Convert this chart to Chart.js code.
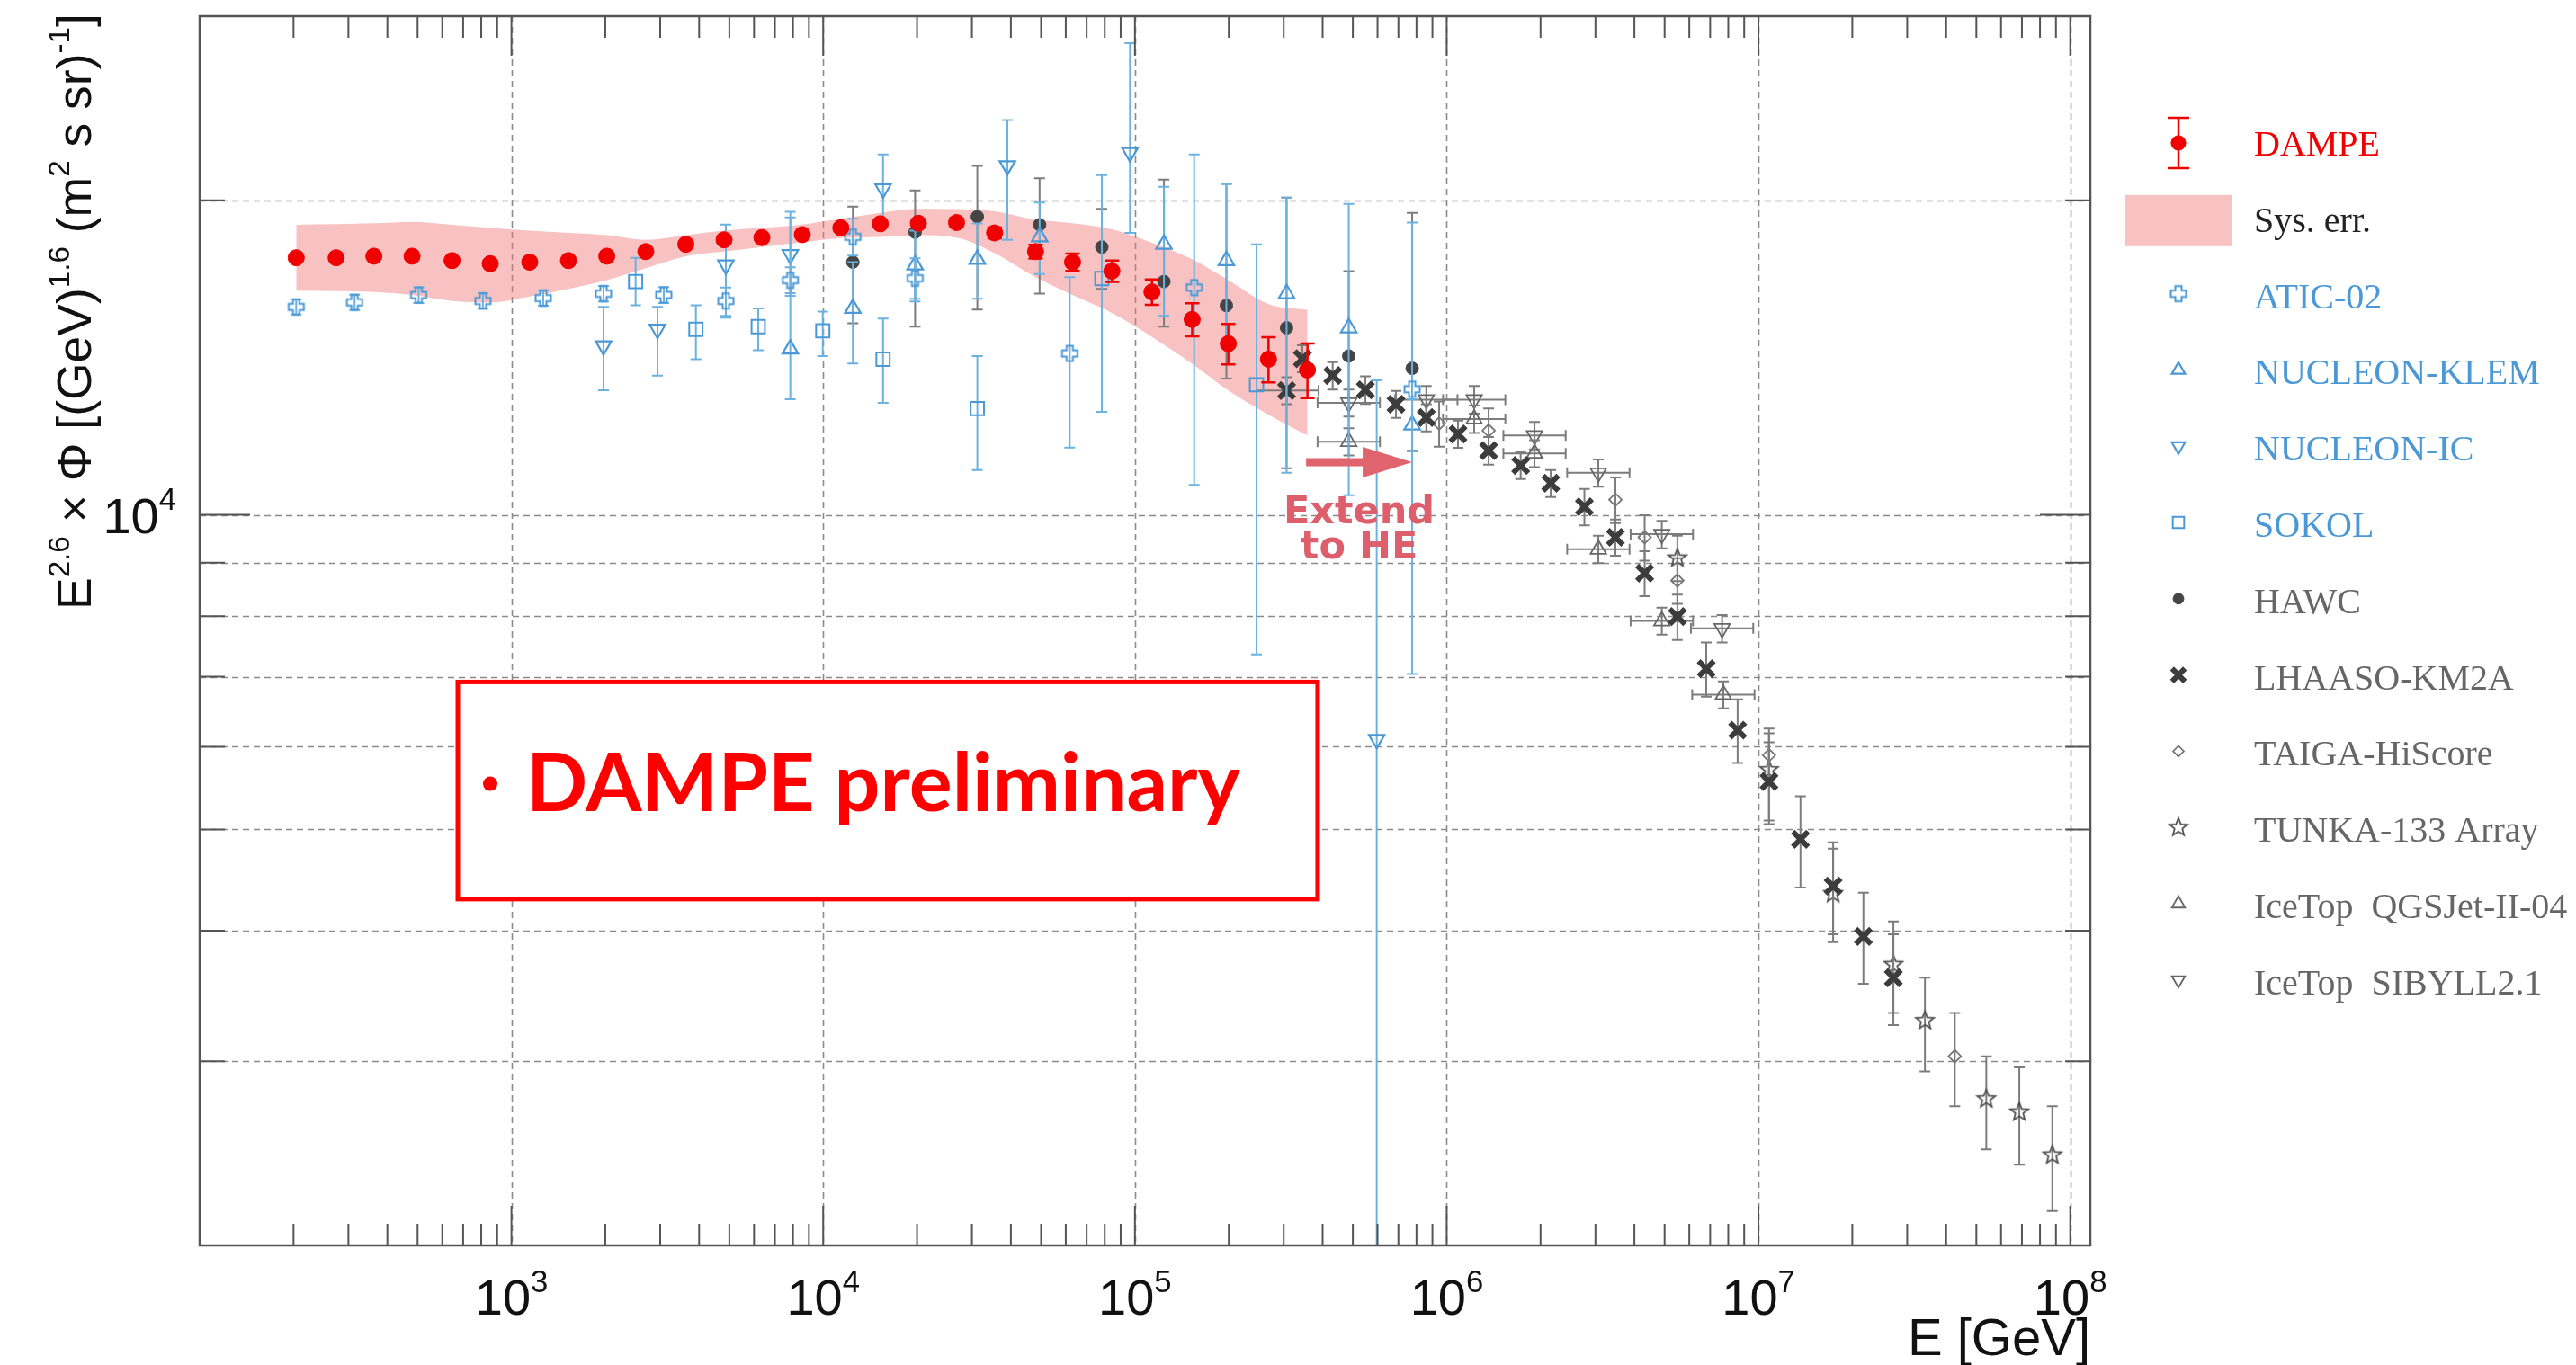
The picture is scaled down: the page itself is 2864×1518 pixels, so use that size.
<!DOCTYPE html>
<html><head><meta charset="utf-8">
<style>html,body{margin:0;padding:0;background:#fff;}canvas{display:block;}</style>
<script src="https://cdn.jsdelivr.net/npm/chart.js@4.4.1/dist/chart.umd.min.js"></script>
</head><body>
<canvas id="c" width="2864" height="1518" style="width:2864px;height:1518px"></canvas>
<script>
// ---------------- DATA (E in GeV, F = E^2.6 x Flux) ----------------
const dampeE = [204,274,362,480,645,855,1145,1524,2022,2698,3626,4809,6358,8572,11390,15240,20200,26770,35470,48000,63070,84370,113400,152600,199300,268200,357600];
const dampeF = [17620,17620,17680,17680,17510,17390,17450,17510,17680,17860,18150,18330,18420,18540,18820,18990,19010,19040,18610,17860,17450,17110,16340,15380,14580,14090,13760];
const dampeErr = [90,90,90,90,90,90,90,90,90,100,100,110,110,120,130,140,160,190,220,270,330,400,460,560,650,700,830];
const sysHigh = [18950,18970,19010,19070,18950,18820,18700,18610,18520,18330,18520,18700,18820,18960,19200,19450,19620,19610,19520,19160,19010,18760,18210,17560,16770,15910,15710];
const sysLow  = [16390,16370,16340,16230,16020,15970,16180,16450,16770,17220,17680,17860,18040,18230,18400,18450,18520,18420,17800,16880,16230,15600,14800,13950,13150,12470,11910];

const aticE  = [204,314,504,810,1265,1974,3081,4873,7843,12450,19720,61780,154900,774900];
const aticF  = [15810,15970,16230,16020,16120,16280,16230,16020,16770,18450,16840,14270,16500,13190];
const aticLo = [15550,15700,15950,15750,15850,16000,15950,15440,16300,17700,16100,11600,10680,7045];
const aticHi = [16070,16240,16510,16300,16400,16560,16520,16500,17250,19200,17600,16880,22120,19040];

const klemE  = [7843,12450,19720,31220,49450,123900,196500,306500,485100,774900];
const klemF  = [14410,15760,17340,17560,18450,18150,17510,16280,15100,12190];
const klemLo = [12900,13960,16000,16100,17000,15500,14500,10970,10440,11500];
const klemHi = [19260,17450,18700,19000,19900,20600,20730,20120,19840,12900];

const icE  = [1974,2941,4873,7843,15560,38980,96400,596400];
const icF  = [14510,15050,17340,17740,20510,21580,22210,6098];
const icLo = [13160,13590,15500,16200,19040,18330,18610,1900];
const icHi = [15810,15810,18960,19500,22120,23870,28270,13450];

const sokolE  = [2502,3906,6190,9968,15560,31220,78310,245500];
const sokolF  = [16720,15050,15140,15000,14090,12640,16830,13320];
const sokolLo = [15870,14090,14370,14190,12800,11040,12550,7355];
const sokolHi = [17620,15870,15760,15650,15410,14190,21140,18150];

const hawcE  = [12450,19720,31220,49450,78310,123900,196500,306500,485100,774900];
const hawcF  = [17450,18640,19290,18950,18040,16720,15860,15100,14190,13810];
const hawcLo = [15250,15140,15720,16280,16450,15140,13500,11080,11750,11520];
const hawcHi = [19720,20440,21570,20990,19620,20930,20730,20120,17110,19450];

const lhaasoE  = [306500,344500,430900,548600,687600,860000,1087000,1363000,1727000,2156000,2765000,3477000,4315000,5493000,6800000,8574000,10810000,13640000,17360000,21710000,27090000];
const lhaasoF  = [13150,14110,13590,13170,12760,12390,11950,11520,11150,10720,10180,9518,8795,7994,7125,6223,5558,4893,4414,3950,3607];
const lhaasoLo = [12760,13690,13180,12770,12380,12020,11590,11170,10820,10400,9770,9140,8360,7590,6700,5790,5060,4400,3970,3560,3250];
const lhaasoHi = [13540,14530,14000,13570,13140,12760,12310,11870,11480,11040,10590,9900,9230,8390,7550,6660,6060,5380,4860,4350,3970];
const lhaasoXLo = [245500,null,null,null,null,null,null,null,null,null,null,null,null,null,null,null,null,null,null,null,null];
const lhaasoXHi = [388400,null,null,null,null,null,null,null,null,null,null,null,null,null,null,null,null,null,null,null,null];

const taigaE  = [945800,1363000,3477000,4315000,5493000,10810000,42640000];
const taigaF  = [12230,12040,10340,9518,8653,5889,3034];
const taigaLo = [11620,11440,9820,9040,8220,5590,2717];
const taigaHi = [12840,12640,10860,9990,9090,6180,3337];

const tunkaE  = [5493000,10810000,17360000,27090000,34200000,53800000,68670000,87600000];
const tunkaF  = [9091,5702,4342,3713,3281,2761,2683,2440];
const tunkaLo = [8640,5099,3902,3337,2935,2471,2389,2157];
const tunkaHi = [9550,6244,4794,4083,3607,3034,2960,2717];

const itqE   = [485100,1225000,1913000,3065000,4898000,7717000];
const itqF   = [11750,12350,11450,9271,7916,6731];
const itqLo  = [11400,11980,11110,8990,7680,6530];
const itqHi  = [12100,12720,11790,9550,8150,6930];
const itqXLo = [385300,973000,1520000,2434000,3890000,6130000];
const itqXHi = [610700,1542000,2408000,3859000,6166000,9715000];

const itsE   = [485100,860000,1225000,1913000,3065000,4898000,7644000];
const itsF   = [12800,12890,12890,11910,10970,9582,7787];
const itsLo  = [12420,12500,12500,11550,10640,9290,7550];
const itsHi  = [13180,13280,13280,12270,11300,9870,8020];
const itsXLo = [385300,683100,973000,1520000,2434000,3890000,6072000];
const itsXHi = [610700,1083000,1542000,2408000,3859000,6166000,9623000];

// axis ticks / grid
const xDecades = [1e3,1e4,1e5,1e6,1e7,1e8];
const xDecadeExp = ['3','4','5','6','7','8'];
const yGrid = [3000,4000,5000,6000,7000,8000,9000,10000,20000];
const yLabelValue = 10000, yLabelExp = '4';

// ---------------- STYLE ----------------
const RED='#f00000', BLUE='#4a98d6', BLUE_BAR='#6cb2e0', GREY='#505050', GREY_BAR='#7c7c7c';
const BAND='rgba(240,120,120,0.45)';
const SANS='"Liberation Sans", Arial, sans-serif', SERIF='"Liberation Serif", "Times New Roman", serif';

function mk(w,h,fn){const c=document.createElement('canvas');c.width=w;c.height=h;fn(c.getContext('2d'),w/2,h/2);return c;}
const aticImg = mk(24,24,(g,cx,cy)=>{g.strokeStyle=BLUE;g.lineWidth=2;const a=3.5,b=8.5;g.beginPath();
  g.moveTo(cx-a,cy-b);g.lineTo(cx+a,cy-b);g.lineTo(cx+a,cy-a);g.lineTo(cx+b,cy-a);g.lineTo(cx+b,cy+a);g.lineTo(cx+a,cy+a);
  g.lineTo(cx+a,cy+b);g.lineTo(cx-a,cy+b);g.lineTo(cx-a,cy+a);g.lineTo(cx-b,cy+a);g.lineTo(cx-b,cy-a);g.lineTo(cx-a,cy-a);g.closePath();g.stroke();});
const starImg = mk(26,26,(g,cx,cy)=>{g.strokeStyle=GREY;g.lineWidth=1.8;g.beginPath();
  for(let k=0;k<10;k++){const r=k%2?4.5:10.5,a=-Math.PI/2+k*Math.PI/5;const px=cx+r*Math.cos(a),py=cy+r*Math.sin(a);k?g.lineTo(px,py):g.moveTo(px,py);}
  g.closePath();g.stroke();});

function pts(E,F){return E.map((e,i)=>({x:e,y:F[i]}));}

const series = [
 {label:'DAMPE', E:dampeE, F:dampeF, lo:dampeF.map((f,i)=>f-dampeErr[i]), hi:dampeF.map((f,i)=>f+dampeErr[i]), ps:'circle', r:9, rot:0, fill:RED, stroke:RED, bw:1, bar:RED, barW:2.5, cap:8, txt:RED},
 {label:'ATIC-02', E:aticE, F:aticF, lo:aticLo, hi:aticHi, ps:aticImg, r:9, rot:0, fill:'rgba(0,0,0,0)', stroke:BLUE, bw:2, bar:BLUE_BAR, barW:2, cap:6, txt:BLUE},
 {label:'NUCLEON-KLEM', E:klemE, F:klemF, lo:klemLo, hi:klemHi, ps:'triangle', r:10, rot:0, fill:'rgba(0,0,0,0)', stroke:BLUE, bw:2.2, bar:BLUE_BAR, barW:2, cap:6, txt:BLUE},
 {label:'NUCLEON-IC', E:icE, F:icF, lo:icLo, hi:icHi, ps:'triangle', r:10, rot:180, fill:'rgba(0,0,0,0)', stroke:BLUE, bw:2.2, bar:BLUE_BAR, barW:2, cap:6, txt:BLUE},
 {label:'SOKOL', E:sokolE, F:sokolF, lo:sokolLo, hi:sokolHi, ps:'rect', r:10.5, rot:0, fill:'rgba(0,0,0,0)', stroke:BLUE, bw:2, bar:BLUE_BAR, barW:2, cap:6, txt:BLUE},
 {label:'HAWC', E:hawcE, F:hawcF, lo:hawcLo, hi:hawcHi, ps:'circle', r:7, rot:0, fill:'#454545', stroke:'#454545', bw:1, bar:GREY_BAR, barW:2, cap:6, txt:'#666'},
 {label:'LHAASO-KM2A', E:lhaasoE, F:lhaasoF, lo:lhaasoLo, hi:lhaasoHi, xlo:lhaasoXLo, xhi:lhaasoXHi, ps:'crossRot', r:12, rot:0, fill:'#3c3c3c', stroke:'#3c3c3c', bw:6, bar:GREY_BAR, barW:2, cap:6, txt:'#666'},
 {label:'TAIGA-HiScore', E:taigaE, F:taigaF, lo:taigaLo, hi:taigaHi, ps:'rectRot', r:7, rot:0, fill:'rgba(0,0,0,0)', stroke:'#777', bw:1.8, bar:GREY_BAR, barW:2, cap:6, txt:'#666'},
 {label:'TUNKA-133 Array', E:tunkaE, F:tunkaF, lo:tunkaLo, hi:tunkaHi, ps:starImg, r:10, rot:0, fill:'rgba(0,0,0,0)', stroke:GREY, bw:1.8, bar:GREY_BAR, barW:2, cap:6, txt:'#666'},
 {label:'IceTop  QGSJet-II-04', E:itqE, F:itqF, lo:itqLo, hi:itqHi, xlo:itqXLo, xhi:itqXHi, ps:'triangle', r:10, rot:0, fill:'rgba(0,0,0,0)', stroke:'#666', bw:1.8, bar:GREY_BAR, barW:2, cap:6, txt:'#666'},
 {label:'IceTop  SIBYLL2.1', E:itsE, F:itsF, lo:itsLo, hi:itsHi, xlo:itsXLo, xhi:itsXHi, ps:'triangle', r:10, rot:180, fill:'rgba(0,0,0,0)', stroke:'#666', bw:1.8, bar:GREY_BAR, barW:2, cap:6, txt:'#666'}
];

const datasets = series.map(s=>({
  label:s.label, data:pts(s.E,s.F), showLine:false,
  pointStyle:s.ps, pointRadius:s.r, pointRotation:s.rot,
  pointBackgroundColor:s.fill, pointBorderColor:s.stroke, pointBorderWidth:s.bw,
  borderColor:s.stroke, backgroundColor:s.fill,
  errSpec:{lo:s.lo, hi:s.hi, xlo:s.xlo, xhi:s.xhi, color:s.bar, width:s.barW, cap:s.cap}
}));
datasets.push({label:'Sys. err.', data:pts(dampeE,sysHigh), showLine:true, borderWidth:0, borderColor:'rgba(0,0,0,0)', pointRadius:0, fill:'+1', backgroundColor:BAND, tension:0.4, cubicInterpolationMode:'monotone'});
datasets.push({label:'sys-low', data:pts(dampeE,sysLow), showLine:true, borderWidth:0, borderColor:'rgba(0,0,0,0)', pointRadius:0, fill:false, tension:0.4, cubicInterpolationMode:'monotone'});

// annotations in data coordinates
const notes = {
  box:{eMin:673, eMax:385500, fTop:6920, fBottom:4289},
  boxText:{bulletE:855, textE:1115, textEndE:217800, baselineF:5206, text:'DAMPE preliminary'},
  arrow:{e0:354000, e1:775000, f:11230},
  extend:{e:523600, f1:9818, f2:9091}
};

// ---------------- PLUGINS ----------------
const errorBars = {
  id:'errorBars',
  beforeDatasetDraw(chart,args){
    const ds=chart.data.datasets[args.index]; const e=ds.errSpec; if(!e) return;
    const xs=chart.scales.x, ys=chart.scales.y, ctx=chart.ctx, ca=chart.chartArea;
    ctx.save(); ctx.beginPath(); ctx.rect(ca.left,ca.top,ca.right-ca.left,ca.bottom-ca.top); ctx.clip();
    ctx.strokeStyle=e.color; ctx.lineWidth=e.width;
    ds.data.forEach((p,i)=>{
      const px=xs.getPixelForValue(p.x), py=ys.getPixelForValue(p.y);
      ctx.beginPath();
      if(e.lo && e.lo[i]!=null){
        const y1=ys.getPixelForValue(e.lo[i]), y2=ys.getPixelForValue(e.hi[i]);
        ctx.moveTo(px,y1);ctx.lineTo(px,y2);
        ctx.moveTo(px-e.cap,y1);ctx.lineTo(px+e.cap,y1);ctx.moveTo(px-e.cap,y2);ctx.lineTo(px+e.cap,y2);
      }
      if(e.xlo && e.xlo[i]!=null){
        const x1=xs.getPixelForValue(e.xlo[i]), x2=xs.getPixelForValue(e.xhi[i]);
        ctx.moveTo(x1,py);ctx.lineTo(x2,py);
        ctx.moveTo(x1,py-e.cap);ctx.lineTo(x1,py+e.cap);ctx.moveTo(x2,py-e.cap);ctx.lineTo(x2,py+e.cap);
      }
      ctx.stroke();
    });
    ctx.restore();
  }
};

function drawRich(ctx,parts,x,y,size,family){
  let cx=x;
  for(const p of parts){
    const fs=p.sup?size*0.62:size;
    ctx.font=`${fs}px ${family}`;
    ctx.fillText(p.t,cx,p.sup?y-size*0.45:y);
    cx+=ctx.measureText(p.t).width;
  }
  return cx-x;
}
function richWidth(ctx,parts,size,family){
  let w=0; for(const p of parts){ctx.font=`${p.sup?size*0.62:size}px ${family}`; w+=ctx.measureText(p.t).width;} return w;
}
function marker(ctx,s,x,y,scale){
  ctx.save();
  if(s.ps instanceof HTMLCanvasElement){ctx.drawImage(s.ps,x-s.ps.width/2,y-s.ps.height/2);ctx.restore();return;}
  const r=s.r*(scale||1);
  ctx.fillStyle=s.fill; ctx.strokeStyle=s.stroke; ctx.lineWidth=s.bw;
  ctx.beginPath();
  if(s.ps==='circle'){ctx.arc(x,y,r,0,Math.PI*2);}
  else if(s.ps==='triangle'){const d=s.rot===180?-1:1;
    ctx.moveTo(x,y-d*r);ctx.lineTo(x+r*0.866,y+d*r*0.5);ctx.lineTo(x-r*0.866,y+d*r*0.5);ctx.closePath();}
  else if(s.ps==='rect'){const h=r*0.7071;ctx.rect(x-h,y-h,2*h,2*h);}
  else if(s.ps==='rectRot'){ctx.moveTo(x,y-r);ctx.lineTo(x+r,y);ctx.lineTo(x,y+r);ctx.lineTo(x-r,y);ctx.closePath();}
  else if(s.ps==='crossRot'){const h=r*0.7071;ctx.moveTo(x-h,y-h);ctx.lineTo(x+h,y+h);ctx.moveTo(x+h,y-h);ctx.lineTo(x-h,y+h);}
  if(s.ps!=='crossRot') ctx.fill();
  ctx.stroke(); ctx.restore();
}

const decor = {
  id:'decor',
  beforeDatasetsDraw(chart){
    const {ctx,chartArea:ca,scales:{x:xs,y:ys}}=chart;
    ctx.save(); ctx.strokeStyle='#8a8a8a'; ctx.lineWidth=1.6; ctx.setLineDash([7,5]);
    yGrid.forEach(v=>{const py=Math.round(ys.getPixelForValue(v))+0.5;ctx.beginPath();ctx.moveTo(ca.left,py);ctx.lineTo(ca.right,py);ctx.stroke();});
    xDecades.forEach(v=>{const px=Math.round(xs.getPixelForValue(v))+0.5;ctx.beginPath();ctx.moveTo(px,ca.top);ctx.lineTo(px,ca.bottom);ctx.stroke();});
    ctx.restore();
  },
  afterDatasetsDraw(chart){
    const {ctx,chartArea:ca,scales:{x:xs,y:ys}}=chart;
    ctx.save();
    // inside ticks
    ctx.strokeStyle='#555'; ctx.lineWidth=2;
    for(let k=2;k<=8;k++){for(let m=1;m<=9;m++){const v=m*Math.pow(10,k); if(v<=xs.min||v>=xs.max) continue;
      const px=xs.getPixelForValue(v), L=(m===1)?44:24;
      ctx.beginPath();ctx.moveTo(px,ca.bottom);ctx.lineTo(px,ca.bottom-L);ctx.moveTo(px,ca.top);ctx.lineTo(px,ca.top+L);ctx.stroke();}}
    for(let k=3;k<=4;k++){for(let m=1;m<=9;m++){const v=m*Math.pow(10,k); if(v<=ys.min||v>=ys.max) continue;
      const py=ys.getPixelForValue(v), L=(m===1)?56:28;
      ctx.beginPath();ctx.moveTo(ca.left,py);ctx.lineTo(ca.left+L,py);ctx.moveTo(ca.right,py);ctx.lineTo(ca.right-L,py);ctx.stroke();}}
    // frame
    ctx.strokeStyle='#555'; ctx.lineWidth=2.5; ctx.strokeRect(ca.left,ca.top,ca.right-ca.left,ca.bottom-ca.top);
    // tick labels
    ctx.fillStyle='#111'; ctx.textBaseline='alphabetic'; ctx.textAlign='left';
    xDecades.forEach((v,i)=>{const parts=[{t:'10'},{t:xDecadeExp[i],sup:1}];const w=richWidth(ctx,parts,56,SANS);
      drawRich(ctx,parts,xs.getPixelForValue(v)-w/2,1462,56,SANS);});
    {const parts=[{t:'10'},{t:yLabelExp,sup:1}];const w=richWidth(ctx,parts,56,SANS);
      drawRich(ctx,parts,196-w,ys.getPixelForValue(yLabelValue)+20,56,SANS);}
    // axis titles
    ctx.textAlign='right'; ctx.font=`58px ${SANS}`; ctx.fillText('E [GeV]',ca.right,1507); ctx.textAlign='left';
    {const parts=[{t:'E'},{t:'2.6',sup:1},{t:' \u00d7 \u03a6 [(GeV)'},{t:'1.6',sup:1},{t:' (m'},{t:'2',sup:1},{t:' s sr)'},{t:'-1',sup:1},{t:']'}];
      const w0=richWidth(ctx,parts,46,SANS); const size=46*663/w0;
      ctx.save(); ctx.translate(101,678); ctx.rotate(-Math.PI/2); drawRich(ctx,parts,0,0,size,SANS); ctx.restore();}
    // annotation: arrow + Extend to HE
    {const a=notes.arrow; const x0=xs.getPixelForValue(a.e0), x1=xs.getPixelForValue(a.e1), y=ys.getPixelForValue(a.f);
      ctx.fillStyle='#e0646e'; ctx.fillRect(x0,y-4.5,(x1-x0)-45,9);
      ctx.beginPath();ctx.moveTo(x1,y);ctx.lineTo(x1-55,y-17);ctx.lineTo(x1-55,y+17);ctx.closePath();ctx.fill();
      const t=notes.extend; const cx=xs.getPixelForValue(t.e);
      ctx.fillStyle='#dc5f6b'; ctx.textAlign='center'; ctx.font=`bold 43px "DejaVu Sans", sans-serif`;
      ctx.fillText('Extend',cx,ys.getPixelForValue(t.f1)); ctx.fillText('to HE',cx,ys.getPixelForValue(t.f2)); ctx.textAlign='left';}
    // annotation: preliminary box
    {const b=notes.box; const x0=xs.getPixelForValue(b.eMin), x1=xs.getPixelForValue(b.eMax), y0=ys.getPixelForValue(b.fTop), y1=ys.getPixelForValue(b.fBottom);
      ctx.fillStyle='#fff'; ctx.fillRect(x0,y0,x1-x0,y1-y0);
      ctx.strokeStyle='#f00'; ctx.lineWidth=5; ctx.strokeRect(x0,y0,x1-x0,y1-y0);
      const t=notes.boxText; const tx0=xs.getPixelForValue(t.textE), tx1=xs.getPixelForValue(t.textEndE), by=ys.getPixelForValue(t.baselineF);
      ctx.font=`bold 100px Lato, "Open Sans", sans-serif`; const w100=ctx.measureText(t.text).width; const fs=100*(tx1-tx0)/w100;
      ctx.fillStyle='#f00'; ctx.font=`bold ${fs}px Lato, "Open Sans", sans-serif`; ctx.fillText(t.text,tx0,by);
      ctx.beginPath(); ctx.arc(xs.getPixelForValue(t.bulletE),by-fs*0.34,8,0,Math.PI*2); ctx.fill();}
    // legend
    const LX=2422, TX=2506, Y0=161, DY=84.8;
    const rows=[series[0],'band',...series.slice(1)];
    rows.forEach((s,i)=>{const y=Y0+i*DY;
      ctx.font=`40px ${SERIF}`; ctx.textAlign='left';
      if(s==='band'){ctx.fillStyle=BAND; ctx.fillRect(2363,y-29,119,57); ctx.fillStyle='#222'; ctx.fillText('Sys. err.',TX,y+12); return;}
      if(s.label==='DAMPE'){ctx.strokeStyle=RED;ctx.lineWidth=2.5;ctx.beginPath();ctx.moveTo(LX,y-30);ctx.lineTo(LX,y+26);
        ctx.moveTo(LX-12,y-30);ctx.lineTo(LX+12,y-30);ctx.moveTo(LX-12,y+26);ctx.lineTo(LX+12,y+26);ctx.stroke();
        marker(ctx,s,LX,y-2,0.9);}
      else marker(ctx,s,LX,y-4,0.85);
      ctx.fillStyle=s.txt; ctx.fillText(s.label,TX,y+12);});
    ctx.restore();
  }
};

new Chart(document.getElementById('c'),{
  type:'line',
  data:{datasets},
  options:{
    responsive:false, devicePixelRatio:1, animation:false, events:[],
    layout:{padding:{left:0,right:540,top:15,bottom:0}},
    plugins:{legend:{display:false},tooltip:{enabled:false}},
    scales:{
      x:{type:'logarithmic',min:100,max:1.16e8,grid:{display:false},border:{display:false},ticks:{display:false},afterFit(s){s.height=133;}},
      y:{type:'logarithmic',min:2000,max:30000,grid:{display:false},border:{display:false},ticks:{display:false},afterFit(s){s.width=222;}}
    }
  },
  plugins:[errorBars,decor]
});
</script>
</body></html>
